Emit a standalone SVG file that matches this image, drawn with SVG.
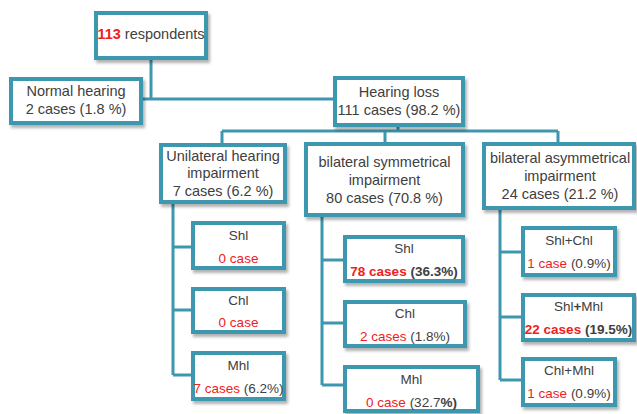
<svg xmlns="http://www.w3.org/2000/svg" width="637" height="414" viewBox="0 0 637 414">
<defs>
<filter id="sh" x="-10%" y="-10%" width="130%" height="140%">
<feDropShadow dx="2" dy="3" stdDeviation="1.5" flood-color="#000" flood-opacity="0.3"/>
</filter>
<style>
.box{fill:#fff;stroke:#3E97AE;stroke-width:4;filter:url(#sh)}
.ln{fill:none;stroke:#3E97AE;stroke-width:3}
text{font-family:"Liberation Sans",Arial,sans-serif;fill:#404040;text-anchor:middle}
.m{font-size:14.5px}
.s{font-size:13.5px}
.r{fill:#F02020}
.b{font-weight:bold}
</style>
</defs>
<rect width="637" height="414" fill="#fff"/>
<g id="connectors">
<path class="ln" d="M151 60V99M143 99H333"/>
<path class="ln" d="M398 127V131M222 131H558M222 131V143M385 131V142M558 131V142"/>
<path class="ln" d="M173 204V375M173 247H191M173 310H191M173 375H191"/>
<path class="ln" d="M322 217V385M322 260H343M322 323H343M322 385H343"/>
<path class="ln" d="M500 210V380M500 252H521M500 317H521M500 380H521"/>
</g>
<g id="n-total"><rect class="box" x="96" y="13" width="110" height="45"/>
<text class="m" x="151" y="39"><tspan class="r b">113</tspan> respondents</text></g>
<g id="n-normal"><rect class="box" x="11" y="79" width="130" height="44"/>
<text class="m" x="76" y="96">Normal hearing</text><text class="m" x="76" y="114">2 cases (1.8 %)</text></g>
<g id="n-loss"><rect class="box" x="335" y="78" width="128" height="47"/>
<text class="m" x="399" y="97">Hearing loss</text><text class="m" x="399" y="115">111 cases (98.2 %)</text></g>
<g id="n-uni"><rect class="box" x="161" y="145" width="124" height="57"/>
<text class="m" x="223" y="161">Unilateral hearing</text><text class="m" x="223" y="178">impairment</text><text class="m" x="223" y="196">7 cases (6.2 %)</text></g>
<g id="n-bisym"><rect class="box" x="306" y="144" width="157" height="71"/>
<text class="m" x="384.5" y="167">bilateral symmetrical</text><text class="m" x="384.5" y="185">impairment</text><text class="m" x="384.5" y="203">80 cases (70.8 %)</text></g>
<g id="n-biasym"><rect class="box" x="484" y="144" width="150" height="64"/>
<text class="m" x="560" y="163">bilateral asymmetrical</text><text class="m" x="560" y="181">impairment</text><text class="m" x="560" y="199">24 cases (21.2 %)</text></g>
<g id="n-u-shl"><rect class="box" x="193" y="223" width="91" height="45"/>
<text class="s" x="238.5" y="240">Shl</text><text class="s r" x="238.5" y="263">0 case</text></g>
<g id="n-u-chl"><rect class="box" x="193" y="289" width="91" height="43"/>
<text class="s" x="238.5" y="305">Chl</text><text class="s r" x="238.5" y="327">0 case</text></g>
<g id="n-u-mhl"><rect class="box" x="193" y="353" width="91" height="46"/>
<text class="s" x="238.5" y="370">Mhl</text><text class="s" x="238.5" y="393"><tspan class="r">7 cases</tspan> (6.2%)</text></g>
<g id="n-s-shl"><rect class="box" x="345" y="237" width="118" height="44"/>
<text class="s" x="404" y="253">Shl</text><text class="s b" x="404" y="276"><tspan class="r">78 cases</tspan> (36.3%)</text></g>
<g id="n-s-chl"><rect class="box" x="345" y="302" width="120" height="44"/>
<text class="s" x="405" y="318">Chl</text><text class="s" x="405" y="341"><tspan class="r">2 cases</tspan> (1.8%)</text></g>
<g id="n-s-mhl"><rect class="box" x="345" y="367" width="133" height="44"/>
<text class="s" x="411.5" y="384">Mhl</text><text class="s" x="411.5" y="407"><tspan class="r">0 case</tspan> (32.7<tspan class="b">%)</tspan></text></g>
<g id="n-a-shlchl"><rect class="box" x="523" y="228" width="92" height="47"/>
<text class="s" x="569" y="245">Shl+Chl</text><text class="s" x="569" y="268"><tspan class="r">1 case</tspan> (0.9%)</text></g>
<g id="n-a-shlmhl"><rect class="box" x="523" y="295" width="111" height="45"/>
<text class="s" x="578.5" y="311">Shl<tspan class="b">+</tspan>Mhl</text><text class="s b" x="578.5" y="334"><tspan class="r">22 cases</tspan> (19.5%)</text></g>
<g id="n-a-chlmhl"><rect class="box" x="523" y="359" width="92" height="46"/>
<text class="s" x="569" y="375">Chl+Mhl</text><text class="s" x="569" y="398"><tspan class="r">1 case</tspan> (0.9%)</text></g>
</svg>
